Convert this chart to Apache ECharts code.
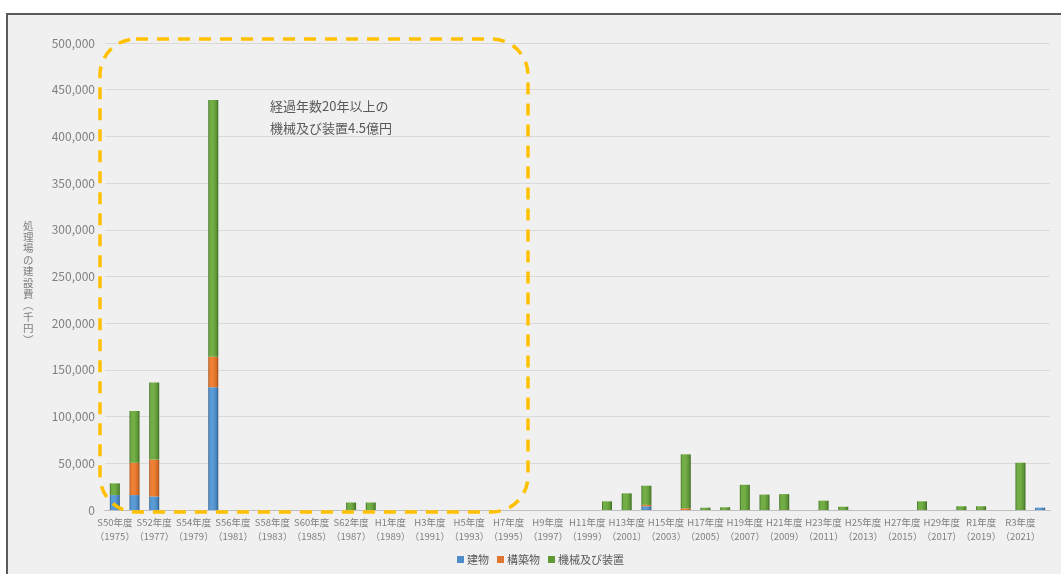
<!DOCTYPE html>
<html>
<head>
<meta charset="utf-8">
<script src="https://cdn.jsdelivr.net/npm/echarts@6/dist/echarts.min.js"></script>
<style>
html,body{margin:0;padding:0;background:#fff;}
#c{width:1061px;height:574px;}
</style>
</head>
<body>
<div id="c"></div>
<script>
// ---- data (千円) ----
const eraLabels = ['S50年度','S51年度','S52年度','S53年度','S54年度','S55年度','S56年度','S57年度','S58年度','S59年度',
  'S60年度','S61年度','S62年度','S63年度','H1年度','H2年度','H3年度','H4年度','H5年度','H6年度',
  'H7年度','H8年度','H9年度','H10年度','H11年度','H12年度','H13年度','H14年度','H15年度','H16年度',
  'H17年度','H18年度','H19年度','H20年度','H21年度','H22年度','H23年度','H24年度','H25年度','H26年度',
  'H27年度','H28年度','H29年度','H30年度','R1年度','R2年度','R3年度','R4年度'];
const years = ['1975','1976','1977','1978','1979','1980','1981','1982','1983','1984',
  '1985','1986','1987','1988','1989','1990','1991','1992','1993','1994',
  '1995','1996','1997','1998','1999','2000','2001','2002','2003','2004',
  '2005','2006','2007','2008','2009','2010','2011','2012','2013','2014',
  '2015','2016','2017','2018','2019','2020','2021','2022'];
const buildings = [16000,16000,14500,0,0,131500,0,0,0,0,
  0,0,0,0,0,0,0,0,0,0,
  0,0,0,0,0,0,0,4000,0,0,
  0,0,0,0,0,0,0,0,0,0,
  0,0,0,0,0,0,0,2500];
const structures = [0,34500,39500,0,0,32500,0,0,0,0,
  0,0,0,0,0,0,0,0,0,0,
  0,0,0,0,0,0,0,1500,0,1800,
  0,0,0,0,0,0,0,0,0,0,
  0,0,0,0,0,0,0,0];
const machinery = [12500,55500,82500,0,0,275000,0,0,0,0,
  0,0,8000,8000,0,0,0,0,0,0,
  0,0,0,0,0,9300,17800,20500,0,57800,
  2500,2900,27000,16500,17000,0,10000,3500,0,0,
  0,9300,0,4000,4000,0,50600,0];
const seriesNames = ['建物','構築物','機械及び装置'];
const yTicks = {min:0, max:500000, interval:50000};
const yTitle = '処理場の建設費（千円）';
const note = ['経過年数20年以上の','機械及び装置4.5億円'];

const categories = eraLabels.map((e,i)=>e+'\n（'+years[i]+'）');

function grad(edge, light, mid){
  return new echarts.graphic.LinearGradient(0,0,1,0,[
    {offset:0,color:edge},{offset:0.15,color:light},{offset:0.5,color:light},{offset:0.8,color:mid},{offset:1,color:edge}
  ]);
}
const colors = [
  grad('#2c5b8a','#5b9bd5','#4a86bf'),
  grad('#a04e17','#ee7f35','#d96d26'),
  grad('#3b6b20','#72ad45','#5f9537')
];
const legendColors = ['#4f8ccc','#e07530','#5f9a36'];

const chart = echarts.init(document.getElementById('c'), null, {renderer:'canvas'});
const FONT = '"Noto Sans CJK JP", "Noto Sans", sans-serif';
const vertTitle = yTitle.replace('（','︵').replace('）','︶').split('').join('\n');

chart.setOption({
  backgroundColor:'#ffffff',
  animation:false,
  textStyle:{fontFamily:FONT},
  grid:{left:105, right:11, top:43, bottom:64, containLabel:false},
  legend:{
    data:seriesNames.map((n,i)=>({name:n, itemStyle:{color:legendColors[i]}})),
    top:554, left:457, itemWidth:7, itemHeight:7, itemGap:8, icon:'rect', padding:0,
    textStyle:{fontFamily:FONT, fontSize:11, color:'#595959', padding:[0,0,0,-2]}
  },
  xAxis:{
    type:'category', data:categories,
    axisTick:{show:false},
    axisLine:{lineStyle:{color:'#bfbfbf', width:1}},
    axisLabel:{interval:0, color:'#7f7f7f', fontSize:9.5, lineHeight:13.5, margin:6, fontFamily:FONT,
      formatter:(v,i)=> i%2===0 ? v : ''}
  },
  yAxis:{
    type:'value', min:yTicks.min, max:yTicks.max, interval:yTicks.interval,
    axisLine:{show:false}, axisTick:{show:false},
    axisLabel:{color:'#7f7f7f', fontSize:12, margin:10, fontFamily:FONT,
      formatter:v=>v.toLocaleString('en-US')},
    splitLine:{lineStyle:{color:'#d9d9d9', width:1}}
  },
  series:[buildings,structures,machinery].map((d,i)=>({
    name:seriesNames[i], type:'bar', stack:'total', barWidth:10,
    data:d.map(v=>v===0?'-':v),
    itemStyle:{color:colors[i]}
  })),
  graphic:[
    {type:'rect', z:-100, silent:true, shape:{x:7,y:14,width:1070,height:580},
      style:{fill:'#f0f0f0', stroke:'#5a5a5a', lineWidth:2}},
    {type:'text', z:100, left:23, top:220, silent:true,
      style:{text:vertTitle, font:'10.5px '+FONT, fill:'#7f7f7f', lineHeight:11.4, align:'left'}},
    {type:'text', z:100, left:270, top:95, silent:true,
      style:{text:note.join('\n'), font:'13px '+FONT, fill:'#595959', lineHeight:22}},
    {type:'rect', z:100, silent:true, shape:{x:100,y:39,width:428,height:473,r:36},
      style:{fill:'none', stroke:'#ffc000', lineWidth:3.5, lineDash:[12,9]}}
  ]
});
</script>
</body>
</html>
